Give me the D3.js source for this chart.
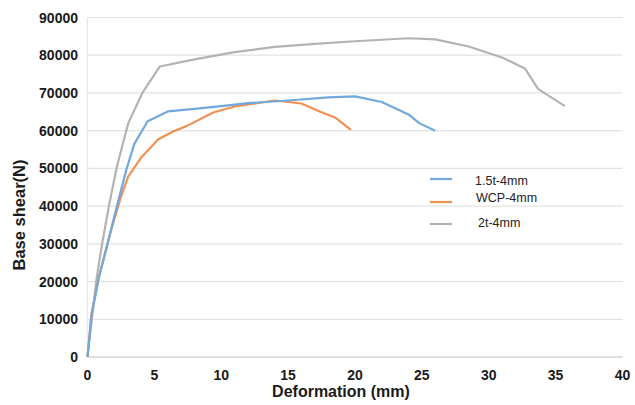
<!DOCTYPE html>
<html><head><meta charset="utf-8">
<script src="https://cdn.jsdelivr.net/npm/d3@7"></script>
<style>body{margin:0;background:#fff}svg{display:block}text{font-family:"Liberation Sans",Arial,sans-serif}</style>
</head><body><svg id="c" width="635" height="405"></svg>
<script>
const seriesNames = ["1.5t-4mm", "WCP-4mm", "2t-4mm"];
const seriesColors = ["#72a9dd", "#f09055", "#b3b3b3"];
const blueX = [0, 0.3, 0.85, 1.6, 2.2, 2.9, 3.5, 4.5, 6, 8, 10, 12, 15, 18, 20, 22, 24, 24.8, 26];
const blueY = [0, 11000, 21000, 31500, 40000, 49600, 56500, 62500, 65100, 65800, 66500, 67300, 68000, 68800, 69100, 67600, 64300, 62000, 60000];
const orangeX = [0, 0.3, 0.8, 1.7, 2.5, 3.05, 4, 5.3, 6.4, 7.4, 9.4, 11, 14, 16, 17.4, 18.5, 19.7];
const orangeY = [0, 11500, 20500, 32800, 42500, 47900, 52800, 57700, 59800, 61200, 64800, 66400, 68000, 67200, 65000, 63500, 60200];
const grayX = [0, 0.2, 0.7, 1.1, 1.6, 2.2, 3.05, 4.1, 5.4, 8, 11, 14, 17, 20, 24, 26, 28.5, 31, 32.7, 33.7, 35.7];
const grayY = [0, 6300, 21300, 30200, 40000, 50500, 62000, 70000, 77000, 78900, 80800, 82200, 83000, 83700, 84500, 84200, 82300, 79400, 76500, 71000, 66500];
const xTicks = [0, 5, 10, 15, 20, 25, 30, 35, 40];
const yTicks = [0, 10000, 20000, 30000, 40000, 50000, 60000, 70000, 80000, 90000];

const svg = d3.select("#c");
const x = d3.scaleLinear().domain([0, 40]).range([87.5, 622.5]);
const y = d3.scaleLinear().domain([0, 90000]).range([357, 17.5]);

// gridlines
svg.append("g").selectAll("line").data(yTicks.filter(d => d > 0)).join("line")
  .attr("x1", x(0)).attr("x2", x(40)).attr("y1", d => y(d)).attr("y2", d => y(d))
  .attr("stroke", "#e3e3e3").attr("stroke-width", 1.2);
// left axis line
svg.append("line").attr("x1", x(0)).attr("x2", x(0)).attr("y1", y(0)).attr("y2", y(90000))
  .attr("stroke", "#e6e6e6").attr("stroke-width", 1.2);
// bottom axis
svg.append("line").attr("x1", x(0)).attr("x2", x(40)).attr("y1", y(0)).attr("y2", y(0))
  .attr("stroke", "#d4d4d4").attr("stroke-width", 1.5);

// tick labels
svg.append("g").selectAll("text").data(yTicks).join("text")
  .attr("x", 78).attr("y", d => y(d)).attr("dy", "0.36em").attr("text-anchor", "end")
  .attr("font-size", 14).attr("font-weight", "bold").attr("fill", "#1a1a1a").text(d => d);
svg.append("g").selectAll("text").data(xTicks).join("text")
  .attr("x", d => x(d)).attr("y", 380).attr("text-anchor", "middle")
  .attr("font-size", 14).attr("font-weight", "bold").attr("fill", "#1a1a1a").text(d => d);

// axis titles
svg.append("text").attr("x", 341).attr("y", 397).attr("text-anchor", "middle")
  .attr("font-size", 16).attr("font-weight", "bold").attr("fill", "#1a1a1a").text("Deformation (mm)");
svg.append("text").attr("transform", "translate(25,215) rotate(-90)").attr("text-anchor", "middle")
  .attr("font-size", 16.5).attr("font-weight", "bold").attr("fill", "#1a1a1a").text("Base shear(N)");

// series
const series = [
  {xs: blueX, ys: blueY},
  {xs: orangeX, ys: orangeY},
  {xs: grayX, ys: grayY}
];
const line = d3.line().x(d => x(d[0])).y(d => y(d[1]));
[2, 1, 0].forEach(i => {
  const pts = series[i].xs.map((v, k) => [v, series[i].ys[k]]);
  svg.append("path").attr("d", line(pts)).attr("fill", "none")
    .attr("stroke", seriesColors[i]).attr("stroke-width", 2.2).attr("stroke-linejoin", "round");
});

// legend
const legY = [179, 202, 224];
const legTextY = [180, 197, 222];
const legTextX = [475, 476, 478];
seriesNames.forEach((n, i) => {
  svg.append("line").attr("x1", 430).attr("x2", 452).attr("y1", legY[i]).attr("y2", legY[i])
    .attr("stroke", seriesColors[i]).attr("stroke-width", 2.2);
  svg.append("text").attr("x", legTextX[i]).attr("y", legTextY[i]).attr("dy", "0.36em")
    .attr("font-size", 12.5).attr("fill", "#222").text(n);
});
</script></body></html>
